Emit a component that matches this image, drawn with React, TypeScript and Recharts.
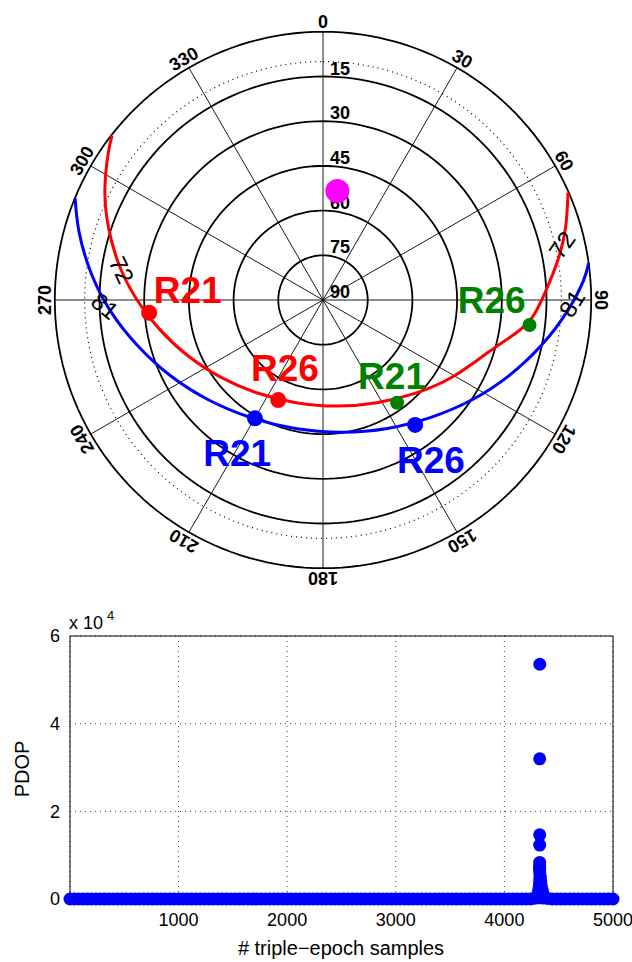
import {
  ComposedChart,
  Line,
  Scatter,
  ScatterChart,
  XAxis,
  YAxis,
  CartesianGrid,
  ReferenceLine,
} from 'recharts';

const FONT = '"Liberation Sans", Arial, Helvetica, sans-serif';

// ============================================================================
// Skyplot data (azimuth / elevation in degrees)
// ============================================================================

const ringElevations = [0, 15, 30, 45, 60, 75];
const maskElevation = 10;
const elevationTicks = [15, 30, 45, 60, 75, 90];
const azimuthTicks = [0, 30, 60, 90, 120, 150, 180, 210, 240, 270, 300, 330];
const spokeAzimuths = [0, 30, 60, 90, 120, 150];

// red track (labelled 72)
const redTrackAz = [307.9, 304.5, 296.8, 288.7, 280.0, 270.6, 260.0, 247.7, 233.0, 215.2, 194.6, 172.7, 152.4, 135.1, 120.8, 107.9, 99.7, 94.4, 87.4, 80.3, 73.3, 66.3];
const redTrackEl = [0.3, 2.6, 8.0, 14.0, 20.4, 27.2, 34.2, 40.9, 47.0, 51.8, 54.4, 54.1, 51.1, 45.9, 39.5, 32.1, 24.3, 19.3, 15.0, 10.0, 5.0, 0.2];

// blue track (labelled 81)
const blueTrackAz = [292.3, 285.6, 276.7, 267.0, 256.2, 243.7, 229.0, 211.6, 192.1, 171.8, 153.4, 137.4, 123.8, 112.1, 101.8, 92.6, 85.8, 82.1];
const blueTrackEl = [0.1, 5.0, 11.6, 18.6, 25.9, 32.8, 39.0, 43.7, 45.9, 45.2, 41.8, 36.5, 29.8, 22.6, 15.2, 7.9, 2.4, 0.0];

// track tags
const tagText = ['72', '81', '72', '81'];
const tagAz = [278.5, 268.4, 77.0, 90.8];
const tagEl = [21.7, 16.8, 7.7, 6.5];
const tagRot = [65, 40, -55, -58];

// satellite markers
const markerName = ['R21', 'R26', 'R21', 'R26', 'R21', 'R26'];
const markerColor = ['#ff0000', '#ff0000', '#0000ff', '#0000ff', '#008000', '#008000'];
const markerAz = [265.8, 204.1, 209.9, 143.6, 144.2, 96.9];
const markerEl = [31.5, 53.2, 44.2, 37.9, 47.5, 20.2];
const markerSize = [8, 8, 8, 8, 7, 7];
const nameAz = [274.2, 209.2, 209.3, 146.0, 138.1, 90.1];
const nameEl = [44.5, 63.8, 31.1, 25.2, 55.3, 33.4];

// magenta point
const pinkAz = [7.5];
const pinkEl = [53.1];

// ============================================================================
// PDOP data
// ============================================================================

const baseSamples = [
  1, 40, 80, 120, 160, 200, 240, 280, 320, 360,
  400, 440, 480, 520, 560, 600, 640, 680, 720, 760,
  800, 840, 880, 920, 960, 1000, 1040, 1080, 1120, 1160,
  1200, 1240, 1280, 1320, 1360, 1400, 1440, 1480, 1520, 1560,
  1600, 1640, 1680, 1720, 1760, 1800, 1840, 1880, 1920, 1960,
  2000, 2040, 2080, 2120, 2160, 2200, 2240, 2280, 2320, 2360,
  2400, 2440, 2480, 2520, 2560, 2600, 2640, 2680, 2720, 2760,
  2800, 2840, 2880, 2920, 2960, 3000, 3040, 3080, 3120, 3160,
  3200, 3240, 3280, 3320, 3360, 3400, 3440, 3480, 3520, 3560,
  3600, 3640, 3680, 3720, 3760, 3800, 3840, 3880, 3920, 3960,
  4000, 4040, 4080, 4120, 4160, 4200, 4240, 4280, 4320, 4360,
  4400, 4440, 4480, 4520, 4560, 4600, 4640, 4680, 4720, 4760,
  4800, 4840, 4880, 4920, 4960, 5000,
];
const basePdop = [
  2.4, 2.2, 2.1, 2.5, 2.6, 2.9, 3.0, 2.7, 2.2, 2.0,
  1.9, 2.1, 2.5, 2.6, 2.8, 3.1, 3.3, 3.0, 2.7, 2.4,
  2.0, 2.1, 2.3, 2.6, 2.9, 3.2, 3.6, 3.4, 3.1, 2.8,
  2.4, 2.3, 2.2, 2.1, 2.0, 2.3, 2.6, 2.9, 3.4, 3.8,
  4.1, 3.7, 3.2, 2.9, 2.5, 2.4, 2.3, 2.2, 2.1, 2.4,
  2.7, 2.9, 3.0, 2.9, 2.8, 2.6, 2.4, 2.3, 2.2, 2.4,
  2.6, 3.0, 3.5, 4.0, 4.4, 4.1, 3.8, 3.3, 2.9, 2.7,
  2.5, 2.4, 2.3, 2.1, 2.0, 2.1, 2.2, 2.4, 2.7, 2.9,
  3.2, 3.0, 2.9, 2.7, 2.6, 2.5, 2.4, 2.6, 2.8, 3.2,
  3.7, 4.2, 4.6, 5.0, 5.2, 4.7, 3.9, 3.4, 3.1, 2.8,
  2.6, 2.7, 2.9, 3.3, 4.8, 6.5, 9.5, 180, 260, 210,
  120, 12.0, 8.4, 6.1, 4.9, 3.8, 3.2, 2.9, 2.7, 2.5,
  2.3, 2.4, 2.6, 2.5, 2.4, 2.2,
];
const spikeSamples = [4300, 4310, 4316, 4320, 4323, 4325, 4327, 4328, 4326, 4325, 4325, 4324, 4325, 4325, 4325, 4325, 4326, 4330, 4334, 4340, 4348, 4356, 4362];
const spikePdop = [500, 1100, 1800, 2500, 3200, 3900, 4600, 5300, 6000, 6600, 7100, 7430, 8340, 12300, 14650, 31970, 53550, 5000, 4000, 3000, 2000, 1200, 600];

const xTicks = [1000, 2000, 3000, 4000, 5000];
const yTicks = [0, 20000, 40000, 60000];

// ============================================================================
// Build chart tables
// ============================================================================

function polar(az: number, el: number) {
  const zd = 90 - el;
  const a = (az * Math.PI) / 180;
  return { x: zd * Math.sin(a), y: zd * Math.cos(a) };
}

function circle(el: number) {
  const pts = [];
  for (let a = 0; a <= 360; a += 2) pts.push(polar(a, el));
  return pts;
}

const ringData = ringElevations.map(el => circle(el));
const maskData = circle(maskElevation);
const spokeData = spokeAzimuths.map(az => [polar(az, 0), polar(az + 180, 0)]);
const elevLabelData = elevationTicks.map(el => ({ ...polar(0, el), text: String(el) }));
const azLabelData = azimuthTicks.map(az => ({ ...polar(az, -3.4), text: String(az), rot: az }));
const redTrack = redTrackAz.map((az, i) => polar(az, redTrackEl[i]));
const blueTrack = blueTrackAz.map((az, i) => polar(az, blueTrackEl[i]));
const tagData = tagText.map((t, i) => ({ ...polar(tagAz[i], tagEl[i]), text: t, rot: tagRot[i] }));
const markerData = markerName.map((n, i) => ({ ...polar(markerAz[i], markerEl[i]), color: markerColor[i], r: markerSize[i] }));
const nameData = markerName.map((n, i) => ({ ...polar(nameAz[i], nameEl[i]), text: n, color: markerColor[i] }));
const pinkData = pinkAz.map((az, i) => polar(az, pinkEl[i]));

const pdopData = [
  ...baseSamples.map((s, i) => ({ x: s, y: basePdop[i] })),
  ...spikeSamples.map((s, i) => ({ x: s, y: spikePdop[i] })),
];

// ============================================================================
// Shapes
// ============================================================================

const elevShape = (p: any) => (
  <text x={p.cx + 7} y={p.cy - 2} fontFamily={FONT} fontWeight="bold" fontSize={18} fill="#000">
    {p.payload.text}
  </text>
);

const rotatedText = (size: number, weight: string) => (p: any) => (
  <text
    x={p.cx}
    y={p.cy}
    textAnchor="middle"
    dominantBaseline="central"
    transform={`rotate(${p.payload.rot} ${p.cx} ${p.cy})`}
    fontFamily={FONT}
    fontWeight={weight}
    fontSize={size}
    fill="#000"
  >
    {p.payload.text}
  </text>
);
const azShape = rotatedText(18, 'bold');
const tagShape = rotatedText(24, 'normal');

const markerShape = (p: any) => <circle cx={p.cx} cy={p.cy} r={p.payload.r} fill={p.payload.color} />;
const pinkShape = (p: any) => <circle cx={p.cx} cy={p.cy} r={12} fill="#ff00ff" />;
const nameShape = (p: any) => (
  <text
    x={p.cx}
    y={p.cy}
    textAnchor="middle"
    dominantBaseline="central"
    fontFamily={FONT}
    fontWeight="bold"
    fontSize={37}
    fill={p.payload.color}
  >
    {p.payload.text}
  </text>
);
const pdopShape = (p: any) => <circle cx={p.cx} cy={p.cy} r={6.5} fill="#0000ff" />;

// ============================================================================
// App
// ============================================================================

export default function App() {
  return (
    <div style={{ position: 'absolute', left: 0, top: 0, width: 632, height: 962, background: '#fff' }}>
      <div style={{ position: 'absolute', left: 25, top: 2 }}>
        <ComposedChart width={596} height={596} margin={{ top: 0, right: 0, bottom: 0, left: 0 }}>
          <XAxis type="number" dataKey="x" domain={[-100, 100]} allowDataOverflow hide />
          <YAxis type="number" dataKey="y" domain={[-100, 100]} allowDataOverflow hide />
          {ringData.map((d, i) => (
            <Line key={'ring' + i} data={d} dataKey="y" type="linear" stroke="#000" strokeWidth={1.8}
              dot={false} activeDot={false} isAnimationActive={false} />
          ))}
          <Line data={maskData} dataKey="y" type="linear" stroke="#000" strokeWidth={1.2} strokeDasharray="1 4"
            dot={false} activeDot={false} isAnimationActive={false} />
          {spokeData.map((d, i) => (
            <Line key={'spoke' + i} data={d} dataKey="y" type="linear" stroke="#000" strokeWidth={0.9}
              dot={false} activeDot={false} isAnimationActive={false} />
          ))}
          <Scatter data={elevLabelData} dataKey="y" shape={elevShape} isAnimationActive={false} />
          <Scatter data={azLabelData} dataKey="y" shape={azShape} isAnimationActive={false} />
          <Line data={redTrack} dataKey="y" type="natural" stroke="#ff0000" strokeWidth={3}
            dot={false} activeDot={false} isAnimationActive={false} />
          <Line data={blueTrack} dataKey="y" type="natural" stroke="#0000ff" strokeWidth={3}
            dot={false} activeDot={false} isAnimationActive={false} />
          <Scatter data={tagData} dataKey="y" shape={tagShape} isAnimationActive={false} />
          <Scatter data={pinkData} dataKey="y" shape={pinkShape} isAnimationActive={false} />
          <Scatter data={markerData} dataKey="y" shape={markerShape} isAnimationActive={false} />
          <Scatter data={nameData} dataKey="y" shape={nameShape} isAnimationActive={false} />
        </ComposedChart>
      </div>

      <div style={{ position: 'absolute', left: 0, top: 600 }}>
        <ScatterChart width={632} height={362} margin={{ top: 36, right: 19, bottom: 0, left: 0 }}>
          <CartesianGrid stroke="#444" strokeDasharray="1 4" />
          <XAxis
            type="number"
            dataKey="x"
            domain={[1, 5000]}
            ticks={xTicks}
            height={63}
            tickLine={false}
            tickMargin={8}
            axisLine={{ stroke: '#000' }}
            tick={{ fill: '#000', fontSize: 18, fontFamily: FONT }}
          />
          <YAxis
            type="number"
            dataKey="y"
            domain={[0, 60000]}
            ticks={yTicks}
            width={70}
            tickLine={false}
            tickMargin={4}
            tickFormatter={(v: number) => String(v / 10000)}
            axisLine={{ stroke: '#000' }}
            tick={{ fill: '#000', fontSize: 18, fontFamily: FONT }}
          />
          <ReferenceLine y={60000} stroke="#000" />
          <ReferenceLine x={5000} stroke="#000" />
          <Scatter data={pdopData} shape={pdopShape} isAnimationActive={false} />
        </ScatterChart>
      </div>

      <svg width={632} height={362} style={{ position: 'absolute', left: 0, top: 600, pointerEvents: 'none' }}>
        <text x={69} y={29} fontFamily={FONT} fontSize={18} fill="#000">x 10</text>
        <text x={107} y={20} fontFamily={FONT} fontSize={13} fill="#000">4</text>
        <text x={22} y={169} transform="rotate(-90 22 169)" textAnchor="middle" dominantBaseline="central"
          fontFamily={FONT} fontSize={20} fill="#000">PDOP</text>
        <text x={341} y={355} textAnchor="middle" fontFamily={FONT} fontSize={20} fill="#000">
          # triple−epoch samples
        </text>
      </svg>
    </div>
  );
}
